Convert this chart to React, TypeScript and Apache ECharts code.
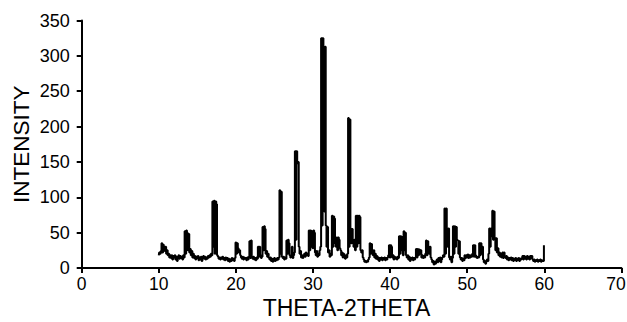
import React, { useEffect, useRef } from "react";
import * as echarts from "echarts";

// Sampling grid of the diffractogram (2θ, degrees)
const thetaStart = 10;
const thetaStep = 0.1;

// Intensity, one value per 0.1° from 10.0° to 60.0°
const intensity10to20 = [
  18, 22, 20, 24, 35, 22, 33, 30, 24, 30,
  20, 25, 18, 20, 15, 18, 14, 18, 12, 17,
  15, 18, 12, 16, 10, 15, 18, 13, 17, 14,
  16, 12, 18, 15, 52, 20, 53, 50, 25, 48,
  22, 27, 18, 24, 15, 20, 14, 17, 12, 16,
  14, 17, 11, 15, 12, 16, 10, 14, 17, 13,
  16, 12, 15, 13, 17, 15, 18, 16, 20, 18,
  94, 30, 95, 20, 94, 90, 18, 16, 13, 15,
  12, 15, 13, 16, 12, 14, 11, 15, 12, 14,
  10, 13, 9, 12, 10, 14, 11, 13, 10, 14,
];
const intensity20to30 = [
  36, 20, 35, 28, 22, 25, 18, 15, 13, 16,
  12, 15, 13, 14, 11, 15, 12, 16, 38, 14,
  39, 15, 13, 16, 12, 14, 11, 15, 13, 30,
  16, 30, 18, 14, 16, 58, 25, 59, 55, 20,
  24, 16, 20, 14, 12, 15, 10, 13, 9, 12,
  14, 10, 13, 11, 14, 12, 15, 110, 20, 108,
  16, 14, 16, 12, 15, 13, 39, 20, 40, 35,
  18, 15, 17, 30, 14, 18, 22, 165, 40, 165,
  148, 150, 30, 20, 24, 15, 18, 14, 17, 20,
  16, 22, 18, 20, 17, 53, 25, 53, 30, 52,
];
const intensity30to40 = [
  28, 53, 50, 22, 18, 24, 16, 20, 18, 25,
  30, 325, 60, 325, 313, 80, 313, 60, 30, 58,
  22, 25, 16, 20, 18, 74, 30, 73, 70, 35,
  30, 43, 25, 43, 40, 28, 25, 18, 22, 15,
  20, 17, 13, 18, 15, 20, 212, 30, 210, 56,
  35, 55, 40, 30, 40, 25, 74, 30, 74, 35,
  74, 72, 25, 22, 25, 15, 12, 9, 10, 8,
  10, 9, 12, 15, 35, 20, 34, 25, 18, 25,
  15, 20, 13, 17, 12, 15, 10, 14, 12, 15,
  11, 14, 12, 15, 11, 14, 12, 15, 18, 32,
];
const intensity40to50 = [
  15, 32, 30, 15, 18, 12, 16, 13, 15, 12,
  16, 14, 45, 20, 45, 25, 44, 18, 52, 25,
  50, 18, 15, 18, 12, 16, 10, 14, 12, 15,
  11, 14, 12, 15, 27, 15, 27, 18, 26, 20,
  25, 15, 18, 14, 17, 15, 20, 39, 18, 38,
  30, 20, 30, 15, 12, 8, 10, 5, 9, 6,
  10, 12, 8, 14, 10, 15, 8, 12, 15, 18,
  16, 84, 20, 84, 56, 30, 56, 15, 12, 16,
  8, 14, 59, 20, 59, 30, 58, 40, 39, 20,
  38, 15, 12, 14, 10, 13, 11, 18, 14, 18,
];
const intensity50to60 = [
  15, 19, 14, 18, 15, 18, 16, 20, 32, 16,
  32, 18, 15, 14, 16, 15, 35, 18, 35, 20,
  30, 12, 8, 10, 6, 9, 12, 10, 20, 56,
  30, 56, 45, 81, 40, 80, 42, 25, 42, 22,
  28, 18, 22, 16, 20, 15, 22, 14, 22, 16,
  14, 17, 12, 15, 11, 14, 12, 15, 11, 14,
  10, 13, 11, 14, 10, 13, 11, 14, 10, 13,
  12, 14, 17, 12, 17, 13, 16, 12, 17, 13,
  16, 12, 17, 14, 17, 12, 10, 12, 9, 11,
  10, 12, 9, 11, 10, 12, 9, 11, 10, 10,
  32,
];

const xTicks = [0, 10, 20, 30, 40, 50, 60, 70];
const yTicks = [0, 50, 100, 150, 200, 250, 300, 350];

const FONT = "'Liberation Sans', Arial, Helvetica, sans-serif";

export default function App() {
  const ref = useRef<HTMLDivElement>(null);

  useEffect(() => {
    if (!ref.current) return;
    const chart = echarts.init(ref.current, null, { renderer: "svg" });
    const values = [
      ...intensity10to20,
      ...intensity20to30,
      ...intensity30to40,
      ...intensity40to50,
      ...intensity50to60,
    ];
    const data = values.map((v, i) => [
      Math.round((thetaStart + i * thetaStep) * 10) / 10,
      v,
    ]);
    const axisLine = { show: true, lineStyle: { color: "#000", width: 2 } };
    const xMax = xTicks[xTicks.length - 1];
    chart.setOption({
      animation: false,
      backgroundColor: "#fff",
      grid: {
        left: 81.7,
        right: 5.6,
        top: 20.5,
        bottom: 54,
        containLabel: false,
        outerBoundsMode: "none",
      },
      xAxis: {
        type: "value",
        min: xTicks[0],
        max: xMax,
        interval: 10,
        name: "THETA-2THETA",
        nameLocation: "middle",
        nameGap: 28,
        nameMoveOverlap: false,
        nameTextStyle: {
          fontFamily: FONT,
          fontSize: 23,
          color: "#000",
          padding: [0, 10, 0, 0],
        },
        axisLine,
        axisTick: { show: true, length: 5, lineStyle: { color: "#000", width: 2 } },
        axisLabel: {
          fontFamily: FONT,
          fontSize: 17.5,
          color: "#000",
          margin: 7,
          formatter: (v: number) => (v === xMax ? `{last|${v}}` : `${v}`),
          rich: {
            last: {
              fontFamily: FONT,
              fontSize: 17.5,
              color: "#000",
              padding: [0, 11, 0, 0],
            },
          },
        },
        splitLine: { show: false },
      },
      yAxis: {
        type: "value",
        min: yTicks[0],
        max: yTicks[yTicks.length - 1],
        interval: 50,
        name: "INTENSITY",
        nameLocation: "middle",
        nameGap: 48.5,
        nameMoveOverlap: false,
        nameRotate: 90,
        nameTextStyle: { fontFamily: FONT, fontSize: 22.5, color: "#000" },
        axisLine,
        axisTick: { show: true, length: 5, lineStyle: { color: "#000", width: 2 } },
        axisLabel: { fontFamily: FONT, fontSize: 18, color: "#000", margin: 12 },
        splitLine: { show: false },
      },
      series: [
        {
          type: "line",
          data,
          showSymbol: false,
          symbol: "none",
          lineStyle: { color: "#000", width: 2 },
          step: "middle",
        },
      ],
    });
    return () => chart.dispose();
  }, []);

  return (
    <div
      ref={ref}
      style={{ position: "absolute", left: 0, top: 0, width: 627, height: 322 }}
    />
  );
}
